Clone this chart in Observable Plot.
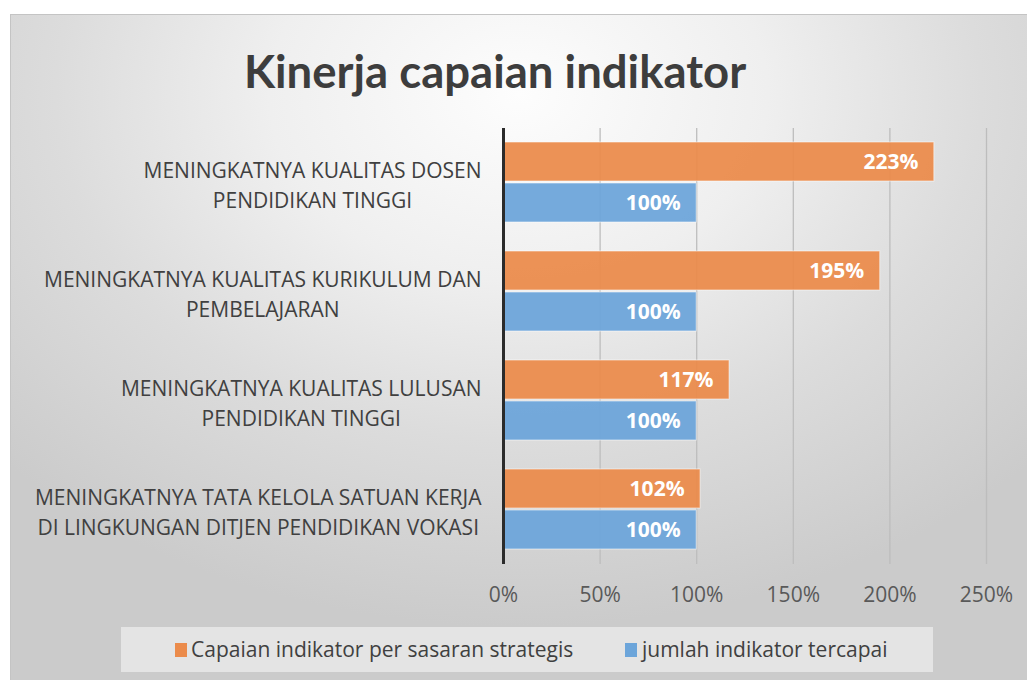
<!DOCTYPE html>
<html><head><meta charset="utf-8">
<script src="https://cdn.jsdelivr.net/npm/d3@7"></script>
<script src="https://cdn.jsdelivr.net/npm/@observablehq/plot@0.6"></script>
<style>
html,body{margin:0;padding:0;background:#fff;width:1027px;height:680px;overflow:hidden;}
#frame{position:absolute;left:10px;top:14px;width:1017px;height:666px;
  box-shadow:inset 1px 1px 0 #c4c4c4;
  background:radial-gradient(ellipse 70% 80% at 50% 12%, #fdfdfd 0%, #efefef 35%, #dcdcdc 65%, #cbcbcb 100%);
  font-family:"Open Sans", sans-serif;}
#title{position:absolute;left:0;width:970px;top:34px;text-align:center;font-family:Lato, sans-serif;font-weight:bold;font-size:45.5px;line-height:1;color:#3d3d3d;}
#chart{position:absolute;left:0;top:86px;}
#legend{position:absolute;left:111px;top:613px;width:812px;height:45px;background:#e4e4e4;font-size:21px;color:#404040;}
#legend .sw{position:absolute;top:16px;width:12px;height:14px;}
#legend .lb{position:absolute;top:8px;line-height:28px;white-space:nowrap;}
</style></head>
<body>
<div id="frame">
  <div id="title">Kinerja capaian indikator</div>
  <div id="chart"></div>
  <div id="legend"></div>
</div>
<script>
const categories = [
  "MENINGKATNYA KUALITAS DOSEN\nPENDIDIKAN TINGGI",
  "MENINGKATNYA KUALITAS KURIKULUM DAN\nPEMBELAJARAN",
  "MENINGKATNYA KUALITAS LULUSAN\nPENDIDIKAN TINGGI",
  "MENINGKATNYA TATA KELOLA SATUAN KERJA\nDI LINGKUNGAN DITJEN PENDIDIKAN VOKASI"
];
const series = ["Capaian indikator per sasaran strategis", "jumlah indikator tercapai"];
const capaian = [223, 195, 117, 102];
const jumlah = [100, 100, 100, 100];
const xTicks = [0, 50, 100, 150, 200, 250];
const colors = ["#EB8B4B", "#6CA5DA"];

const rows = categories.flatMap((c, i) => [
  {category: c, series: series[0], value: capaian[i]},
  {category: c, series: series[1], value: jumlah[i]}
]);

const plot = Plot.plot({
  width: 1017, height: 531,
  marginLeft: 493, marginRight: 41, marginTop: 27, marginBottom: 67,
  style: {background: "transparent", fontFamily: "'Open Sans', sans-serif", overflow: "visible"},
  x: {domain: [0, 250], axis: null},
  y: {domain: series, axis: null, paddingInner: 0.04, paddingOuter: 0.32},
  fy: {domain: categories, padding: 0, axis: null},
  color: {domain: series, range: colors},
  marks: [
    Plot.gridX(xTicks, {stroke: "#bdbdbd", strokeOpacity: 1, strokeWidth: 1.3}),
    Plot.barX(rows, {x: "value", y: "series", fy: "category", fill: "series", fillOpacity: 0.94, stroke: "#ffffff", strokeOpacity: 0.55, strokeWidth: 1}),
    Plot.ruleX([0], {stroke: "#2b2b2b", strokeWidth: 3}),
    Plot.text(rows, {x: "value", y: "series", fy: "category", text: d => d.value + "%", textAnchor: "end", dx: -16, fill: "white", fontWeight: "bold", fontSize: 21}),
    Plot.axisX(xTicks, {label: null, tickFormat: d => d + "%", tickSize: 0, tickPadding: 23, fontSize: 21, color: "#595959"}),
    Plot.axisFy({label: null, anchor: "left", tickSize: 0, tickPadding: 22, fontSize: 21, lineHeight: 1.43, lineWidth: Infinity, color: "#404040"})
  ]
});
document.getElementById("chart").appendChild(plot);

// center the lines of each multi-line category label within its block
plot.querySelectorAll('g[aria-label="fy-axis tick label"] text').forEach(t => {
  const spans = t.querySelectorAll("tspan");
  if (spans.length < 2) return;
  let w = 0;
  spans.forEach(s => { w = Math.max(w, s.getComputedTextLength()); });
  t.setAttribute("text-anchor", "middle");
  spans.forEach(s => s.setAttribute("x", -w / 2));
});

const legend = document.getElementById("legend");
const pos = [[54, 70], [504, 521]];
series.forEach((s, i) => {
  const sw = document.createElement("div");
  sw.className = "sw"; sw.style.left = pos[i][0] + "px"; sw.style.background = colors[i];
  const lb = document.createElement("div");
  lb.className = "lb"; lb.style.left = pos[i][1] + "px"; lb.textContent = s;
  legend.appendChild(sw); legend.appendChild(lb);
});
</script>
</body></html>
